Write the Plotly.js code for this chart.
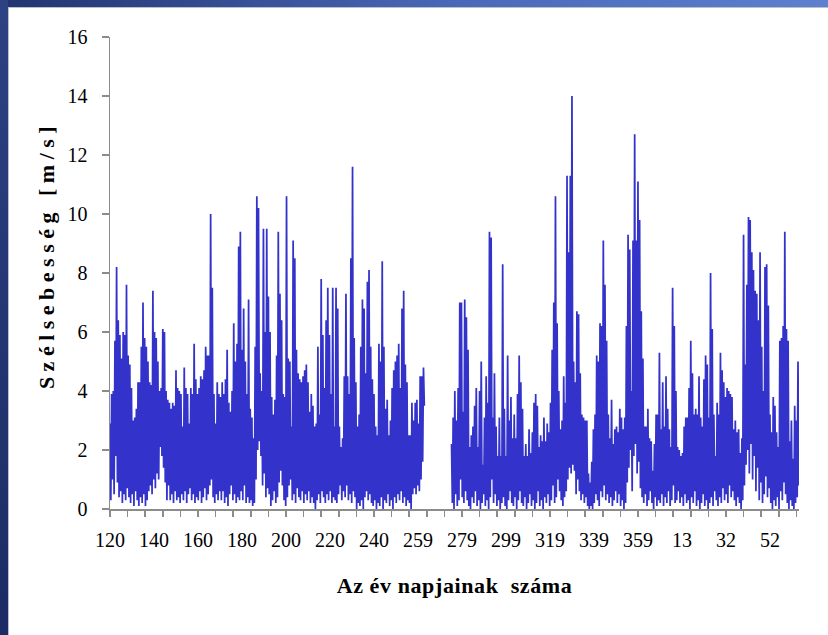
<!DOCTYPE html>
<html><head><meta charset="utf-8">
<script src="https://cdn.plot.ly/plotly-3.0.1.min.js"></script>
<style>
html,body{margin:0;padding:0;width:828px;height:635px;overflow:hidden;background:#fff;}
#topbar{position:absolute;left:0;top:0;width:828px;height:7px;background:linear-gradient(to right,#22346f,#4a68b8 55%,#5d80cf);}
#leftbar{position:absolute;left:0;top:0;width:8px;height:635px;background:linear-gradient(to bottom,#2c4283,#1c2b63);}
#panel{position:absolute;left:8px;top:7px;right:0;bottom:0;background:#fff;border-left:1px solid #b9bfd0;border-top:1px solid #b9bfd0;}
#chart{position:absolute;left:0;top:0;width:828px;height:635px;}
.ytitle{letter-spacing:5.5px;}
.g-ytitle{transform:translate(0px,-18px);}
.xtitle{letter-spacing:0.6px;}
</style></head><body>
<div id="topbar"></div><div id="leftbar"></div><div id="panel"></div>
<div id="chart"></div>
<script>
// Wind speed [m/s]: each sample spans 0.75 day (peak value, then low value within it)
const sampleStepDays = 0.75;
const dayLabels = ["120","140","160","180","200","220","240","259","279","299","319","339","359","13","32","52"];
const labelEveryDays = 20;
const tickEveryDays = 8;
const totalDays = 313.2;

const peaksA = [2.9,3.9,4.0,5.7,8.2,6.4,5.9,5.1,6.0,5.9,
 7.6,5.2,4.9,4.1,3.0,3.1,3.4,4.3,4.3,5.5,
 7.0,5.8,5.5,5.0,4.3,4.2,7.4,6.0,5.8,5.0,
 4.0,4.1,6.1,6.0,4.0,3.7,3.6,3.4,3.6,3.5,
 4.7,4.1,4.0,3.9,2.8,4.8,4.1,3.9,2.9,4.1,
 3.9,5.6,4.4,3.9,4.1,4.5,4.4,4.7,5.5,5.2,
 5.2,10.0,7.5,3.9,2.9,4.3,3.9];
const lowsA = [0.3,1.0,0.5,1.8,0.9,0.4,0.6,0.2,0.5,0.3,
 0.7,0.4,0.2,0.5,0.1,0.6,0.3,0.1,0.4,0.2,
 0.5,0.1,0.3,0.6,0.8,0.5,1.0,0.7,1.2,1.0,
 2.1,1.8,1.4,0.9,0.3,0.8,0.3,0.5,0.2,0.6,
 0.3,0.4,0.2,0.5,0.3,0.6,0.2,0.5,0.7,0.3,
 0.5,0.2,0.4,0.3,0.6,0.2,0.4,0.7,0.3,0.5,
 0.8,1.0,0.4,0.2,0.5,0.3,0.6];

const peaksB = [3.8,4.3,3.9,4.4,5.4,3.6,3.3,4.0,6.3,5.0,
 5.6,8.9,9.4,5.4,6.8,5.0,3.9,7.1,3.4,3.1,
 2.4,5.5,10.6,10.2,4.6,4.0,9.5,6.0,9.5,7.2,
 6.0,3.8,3.2,3.7,5.2,9.4,7.3,6.4,3.9,3.8,
 10.6,5.1,5.0,2.8,9.1,8.5,5.4,4.6,4.4,4.3,
 4.5,4.7,4.9,4.3,3.3,3.9,3.5,2.8,2.9,5.5,
 3.2,7.8,5.9,4.1,6.4,7.5,5.9,3.9,7.5];
const lowsB = [0.3,0.6,0.2,0.4,0.1,0.5,0.8,0.3,0.5,0.2,
 0.4,0.3,0.6,0.3,0.8,0.2,0.4,0.2,0.3,0.1,
 0.2,1.0,2.0,2.3,1.8,0.8,1.2,0.4,0.7,0.5,
 0.1,0.3,0.6,0.2,0.4,0.9,1.3,0.8,0.3,0.1,
 0.4,0.8,1.0,0.3,0.5,0.2,0.7,0.4,0.3,0.6,
 0.2,0.5,0.3,0.6,0.2,0.4,0.2,0.0,0.3,0.5,
 0.2,0.6,0.4,0.2,0.5,0.3,0.6,0.2,0.4];

const peaksC = [2.8,7.5,6.8,2.8,2.1,2.4,4.5,7.3,4.5,3.9,
 8.5,11.6,5.8,4.3,2.8,3.2,5.5,7.1,6.8,4.6,
 7.7,8.1,5.5,4.4,3.9,2.8,2.5,5.6,5.0,8.4,
 5.5,3.4,3.7,2.5,3.0,4.1,4.7,5.0,5.2,5.6,
 4.1,6.8,7.4,4.9,4.3,2.5,2.5,3.6,3.0,3.6,
 3.7,2.9,4.5,4.5,4.8];
const lowsC = [0.3,0.2,0.5,0.8,0.3,0.6,0.4,0.8,0.3,0.5,
 0.2,0.6,0.4,0.0,0.2,0.1,0.3,0.0,0.4,0.6,
 0.3,0.5,0.2,0.1,0.3,0.0,0.2,0.1,0.4,0.0,
 0.3,0.2,0.5,0.1,0.3,0.0,0.4,0.2,0.5,0.3,
 0.6,0.2,0.4,0.1,0.3,0.2,0.0,0.5,0.7,0.5,
 0.8,0.6,1.0,1.6,3.5];

const missingSamples = 16; // no measurements between the two periods

const peaksD = [2.2,3.1,4.0,3.0,4.1,7.0,7.0,3.3,7.1,6.5,
 5.4,2.1,2.5,2.8,3.5,4.1,2.1,4.0,5.0,1.5,
 3.1,4.5,3.6,9.4,9.2,3.1,4.6,2.8,1.8,3.1,
 1.8,8.3,3.4,1.8,5.2,3.0,3.8,2.4,3.2,2.4,
 3.9,5.2,4.3,3.4,1.8,2.2,1.8,2.7,1.9,2.6,
 3.6,3.9,3.5,2.1,2.5,2.3,3.1,2.3,2.9,2.6,
 3.6,5.4,7.0,10.6,6.3,4.0,2.7,3.0];
const lowsD = [0.2,0.0,0.5,0.1,0.3,1.0,0.4,0.2,0.6,0.3,
 0.1,0.0,0.4,0.2,0.6,0.1,0.3,0.0,0.2,0.5,
 0.1,0.3,0.0,0.4,1.0,0.2,0.5,0.1,0.3,0.0,
 0.2,0.4,0.1,0.0,0.3,0.6,0.2,0.1,0.4,0.0,
 0.3,0.6,0.2,0.1,0.4,0.0,0.2,0.5,0.1,0.3,
 0.0,0.2,0.6,0.1,0.3,0.0,0.4,0.2,0.5,0.1,
 0.3,0.8,0.2,0.4,1.0,0.6,0.3,0.1];

const peaksE = [4.5,3.6,11.3,8.7,11.3,14.0,5.0,4.3,6.7,6.6,
 4.6,3.2,3.1,3.0,3.0,1.2,0.9,1.6,2.7,3.2,
 5.2,5.0,6.3,6.2,9.1,7.6,5.7,3.2,2.4,3.7,
 2.2,2.7,2.8,2.6,3.4,3.1,2.7,3.1,6.2,9.3,
 8.8,4.0,9.1,12.7,9.1,11.1,9.8,6.7,5.1,2.8,
 2.8,3.4,2.4,2.3,1.3,2.2,3.2,3.2,5.3,2.7,
 4.3,2.8,4.5,3.4,2.7,2.1,7.5,6.2];
const lowsE = [0.4,0.6,1.0,1.4,1.2,1.5,1.3,0.5,1.0,0.6,
 0.3,0.5,0.2,0.4,0.1,0.0,0.1,0.0,0.2,0.5,
 0.3,0.1,0.6,0.4,0.8,0.3,0.5,0.2,0.4,0.1,
 0.3,0.6,0.2,0.5,0.1,0.3,0.0,0.2,0.9,1.4,
 2.0,0.6,1.8,2.2,1.2,1.6,0.7,0.4,0.2,0.5,
 0.1,0.3,0.6,0.2,0.0,0.4,0.1,0.3,0.2,0.5,
 0.1,0.4,0.2,0.6,0.1,0.3,0.8,0.2];

const peaksF = [4.0,2.1,2.0,1.8,1.9,2.8,3.1,3.1,4.1,5.7,
 4.6,3.2,3.4,3.2,4.5,3.1,2.8,4.4,5.2,4.9,
 3.1,8.0,6.1,3.2,1.8,3.6,3.2,5.3,4.7,4.3,
 3.8,4.1,4.0,3.9,3.8,2.7,3.0,2.6,2.7,1.9,
 2.4,9.3,4.9,7.6,9.9,9.8,8.7,8.1,7.4,7.3,
 6.4,8.7,5.5,4.0,8.2,8.3,6.9,3.2,2.6,3.8,
 3.5,2.6,2.1,5.7,5.8,6.2,9.4,6.1,5.7,2.3,
 3.0,1.7,3.5,3.0,5.0];
const lowsF = [0.3,0.6,0.2,0.4,0.1,0.5,0.2,0.3,0.0,0.4,
 0.2,0.6,0.1,0.3,0.0,0.2,0.5,0.1,0.3,0.0,
 0.2,0.4,0.1,0.6,0.3,0.1,0.4,0.2,0.7,0.3,
 0.5,0.2,0.8,0.4,0.6,0.3,0.1,0.4,0.2,0.0,
 0.3,0.8,1.5,2.0,1.2,2.2,1.0,1.8,0.6,1.4,
 0.3,0.9,0.2,0.5,1.1,0.4,0.7,0.2,0.0,0.3,
 0.1,0.4,0.0,0.6,0.3,0.9,0.5,0.2,0.0,0.3,
 0.1,0.0,0.2,0.4,0.8];

// ---- assemble the series ----
const peaks = [].concat(peaksA, peaksB, peaksC, new Array(missingSamples).fill(null), peaksD, peaksE, peaksF);
const lows  = [].concat(lowsA,  lowsB,  lowsC,  new Array(missingSamples).fill(null), lowsD,  lowsE,  lowsF);
const xs = [], ys = [];
for (let i = 0; i < peaks.length; i++) {
  const d = i * sampleStepDays;
  xs.push(d); ys.push(peaks[i]);
  xs.push(d + sampleStepDays / 2); ys.push(lows[i]);
}
const labelVals = dayLabels.map((_, k) => k * labelEveryDays);
const tickVals = [];
for (let d = 0; d <= totalDays; d += tickEveryDays) tickVals.push(d);

const serif = "'Liberation Serif', 'Times New Roman', serif";
const axisGray = '#8c8c8c';

const traces = [
  {x: xs, y: ys, type: 'scatter', mode: 'lines', connectgaps: false,
   line: {color: 'rgb(51,51,204)', width: 1.75}, hoverinfo: 'skip', showlegend: false},
  {x: [], y: [], type: 'scatter', mode: 'lines', xaxis: 'x2', showlegend: false}
];

const layout = {
  width: 828, height: 635,
  margin: {l: 110, r: 29, t: 37, b: 126},
  paper_bgcolor: 'rgba(0,0,0,0)', plot_bgcolor: '#ffffff',
  showlegend: false,
  font: {family: serif, color: '#000'},
  xaxis: {
    range: [0, totalDays], tickmode: 'array', tickvals: labelVals, ticktext: dayLabels,
    ticks: '', showgrid: false, zeroline: false,
    showline: true, linecolor: axisGray, linewidth: 1.5,
    tickfont: {family: serif, size: 20, color: '#000'}, ticklabelstandoff: 12,
    title: {text: 'Az év napjainak  száma', font: {family: serif, size: 22, color: '#000', weight: 'bold'}, standoff: 28}
  },
  xaxis2: {
    overlaying: 'x', anchor: 'y', side: 'bottom', range: [0, totalDays],
    tickmode: 'array', tickvals: tickVals, ticks: 'outside', ticklen: 7, tickwidth: 1.5, tickcolor: axisGray,
    showticklabels: false, showgrid: false, zeroline: false, showline: false
  },
  yaxis: {
    range: [0, 16], tickmode: 'linear', tick0: 0, dtick: 2,
    ticks: 'outside', ticklen: 7, tickwidth: 1.5, tickcolor: axisGray,
    showgrid: false, zeroline: false, showline: true, linecolor: axisGray, linewidth: 1.5,
    tickfont: {family: serif, size: 20, color: '#000'}, ticklabelstandoff: 10,
    title: {text: 'Szélsebesség [m/s]', font: {family: serif, size: 22, color: '#000', weight: 'bold'}, standoff: 7}
  }
};

Plotly.newPlot('chart', traces, layout, {displayModeBar: false, staticPlot: true});
</script>
</body></html>
